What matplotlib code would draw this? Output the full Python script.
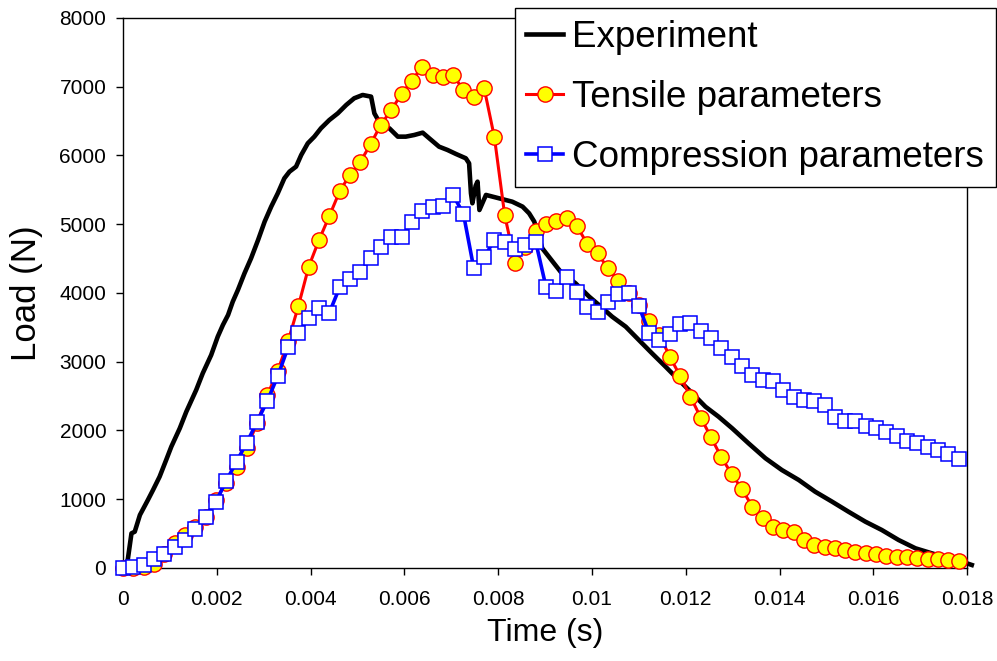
import numpy as np
import matplotlib
matplotlib.use("Agg")
import matplotlib.pyplot as plt

plt.rcParams['font.family'] = ['Liberation Sans', 'DejaVu Sans']

# Experiment (time s, load N)
exp_t = [0.0, 0.00007, 0.0001, 0.00018, 0.00025, 0.00036, 0.00053, 0.00064, 0.00078, 0.00092,
         0.00103, 0.00121, 0.00135, 0.00156, 0.0017, 0.00188, 0.00202, 0.00213, 0.00224, 0.00234,
         0.00245, 0.00259, 0.00273, 0.00288, 0.00302, 0.00316, 0.0033, 0.00344, 0.00355, 0.00369,
         0.0038, 0.00394, 0.00408, 0.00422, 0.0044, 0.00458, 0.00476, 0.00493, 0.00511, 0.00529,
         0.00536, 0.0055, 0.00568, 0.00586, 0.00603, 0.00621, 0.00639, 0.00653, 0.00674, 0.00692,
         0.0071, 0.00731, 0.00738, 0.00742, 0.00745, 0.00752, 0.00756, 0.0076, 0.00774, 0.00802,
         0.0083, 0.00852, 0.00866, 0.00877, 0.00894, 0.00919, 0.00933, 0.00965, 0.00994, 0.01015,
         0.01043, 0.01072, 0.011, 0.01128, 0.01157, 0.01185, 0.01214, 0.01242, 0.0127, 0.01299,
         0.01334, 0.0137, 0.01405, 0.01441, 0.01476, 0.01512, 0.01547, 0.01583, 0.01618, 0.01654,
         0.0169, 0.01725, 0.0176, 0.01789, 0.0181]
exp_load = [0, 60, 116, 504, 528, 771, 989, 1135, 1328, 1571,
            1765, 2032, 2274, 2589, 2832, 3098, 3365, 3535, 3680, 3874,
            4044, 4286, 4504, 4771, 5038, 5256, 5450, 5668, 5765, 5838,
            6007, 6177, 6274, 6395, 6516, 6613, 6735, 6832, 6880, 6856,
            6613, 6444, 6395, 6274, 6274, 6298, 6332, 6250, 6128, 6080,
            6022, 5959, 5886, 5450, 5305, 5560, 5619, 5207, 5426, 5377,
            5328, 5256, 5159, 5038, 4650, 4432, 4310, 4141, 3947, 3825,
            3656, 3510, 3316, 3123, 2928, 2735, 2541, 2346, 2201, 2032,
            1813, 1596, 1425, 1280, 1110, 965, 819, 674, 553, 407,
            286, 213, 141, 92, 44]

# Simulations sampled every 0.00022 s (82 points)
sim_t = [i * 0.00022 for i in range(82)]
tensile = [0, 0, 20, 53, 210, 359, 480, 601, 747, 989,
           1241, 1474, 1741, 2114, 2516, 2870, 3297, 3811, 4383, 4771,
           5120, 5479, 5721, 5905, 6167, 6448, 6662, 6895, 7088, 7292,
           7176, 7147, 7167, 6953, 6856, 6982, 6264, 5130, 4441, 4674,
           4900, 5004, 5052, 5086, 4975, 4713, 4577, 4359, 4180, 4005,
           3825, 3593, 3389, 3074, 2793, 2492, 2187, 1901, 1610, 1367,
           1145, 892, 723, 601, 553, 528, 407, 335, 310, 286,
           262, 237, 213, 199, 179, 165, 155, 141, 131, 126,
           116, 107]
compression = [0, 20, 44, 126, 204, 310, 407, 562, 747, 965,
               1265, 1547, 1823, 2129, 2434, 2793, 3210, 3413, 3641, 3787,
               3714, 4083, 4199, 4310, 4504, 4674, 4810, 4810, 5038, 5198,
               5246, 5265, 5425, 5149, 4359, 4519, 4771, 4746, 4635, 4693,
               4746, 4088, 4029, 4238, 4010, 3792, 3728, 3874, 3985, 3995,
               3811, 3413, 3316, 3399, 3549, 3559, 3452, 3341, 3195, 3074,
               2938, 2807, 2735, 2720, 2589, 2492, 2444, 2434, 2371, 2201,
               2143, 2143, 2065, 2031, 1983, 1924, 1852, 1813, 1765, 1716,
               1658, 1581]

xticks = [0, 0.002, 0.004, 0.006, 0.008, 0.01, 0.012, 0.014, 0.016, 0.018]
xticklabels = ['0', '0.002', '0.004', '0.006', '0.008', '0.01', '0.012', '0.014', '0.016', '0.018']
yticks = [0, 1000, 2000, 3000, 4000, 5000, 6000, 7000, 8000]

fig = plt.figure(figsize=(9.97, 6.61), dpi=100)
ax = fig.add_axes([0.1234, 0.1407, 0.970 - 0.1234, 0.9728 - 0.1407])

ax.plot(exp_t, exp_load, color='black', lw=3.3, label='Experiment', clip_on=False, zorder=3)
ax.plot(sim_t, tensile, color='red', lw=2.2, marker='o', ms=11, mfc='yellow', mec='red',
        mew=1.0, label='Tensile parameters', clip_on=False, zorder=4)
ax.plot(sim_t, compression, color='blue', lw=2.6, marker='s', ms=9.5, mfc='white', mec='blue',
        mew=1.1, label='Compression parameters', clip_on=False, zorder=5)

ax.set_xlim(0, 0.018)
ax.set_ylim(0, 8000)
ax.set_xticks(xticks)
ax.set_xticklabels(xticklabels)
ax.set_yticks(yticks)
ax.tick_params(axis='both', direction='out', length=5, width=1, labelsize=15)
ax.tick_params(axis='x', pad=11)
ax.tick_params(axis='y', pad=7)
for s in ax.spines.values():
    s.set_linewidth(1.0)

ax.set_xlabel('Time (s)', fontsize=23, labelpad=6)
ax.set_ylabel('Load (N)', fontsize=25, labelpad=12)

leg = ax.legend(loc='upper right', bbox_to_anchor=(996 / 997, 1 - 8 / 661),
                bbox_transform=fig.transFigure, borderaxespad=0, fontsize=26.5,
                fancybox=False, framealpha=1, edgecolor='black', handlelength=1.0,
                handletextpad=0.25, labelspacing=0.68, borderpad=0.32)
leg.get_frame().set_linewidth(1.0)
leg.set_zorder(10)

fig.savefig('out.png', dpi=100)
